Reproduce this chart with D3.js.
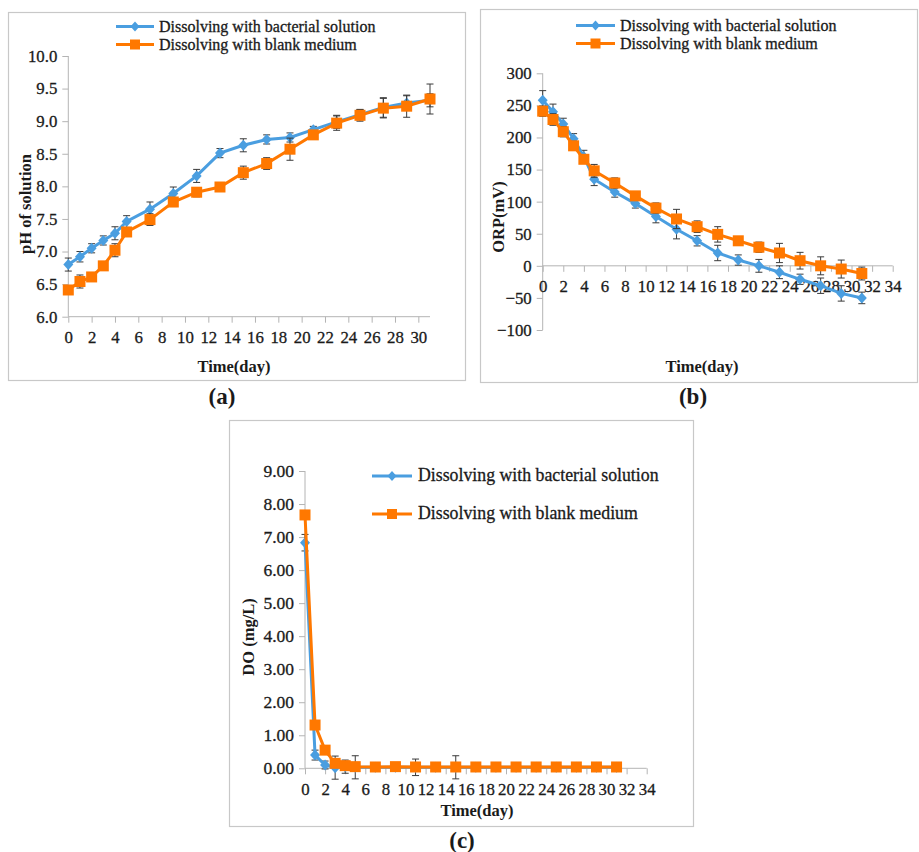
<!DOCTYPE html>
<html><head><meta charset="utf-8">
<script src="https://cdn.jsdelivr.net/npm/d3@7"></script>
<style>body{margin:0;background:#fff}svg{display:block}</style>
</head><body><svg id="c" width="919" height="852"></svg>
<script>
const days = [0,1,2,3,4,5,7,9,11,13,15,17,19,21,23,25,27,29,31];
const seriesNames = ["Dissolving with bacterial solution","Dissolving with blank medium"];
const phBact = [6.80,6.92,7.05,7.17,7.28,7.46,7.65,7.89,8.16,8.51,8.63,8.72,8.75,8.87,8.99,9.10,9.21,9.28,9.32];
const phBactErr = [0.10,0.08,0.07,0.07,0.10,0.09,0.11,0.10,0.10,0.07,0.10,0.07,0.07,0.05,0.10,0.08,0.15,0.11,0.10];
const phBlank = [6.41,6.54,6.61,6.78,7.02,7.30,7.49,7.76,7.91,7.99,8.21,8.35,8.57,8.79,8.97,9.09,9.20,9.23,9.34];
const phBlankErr = [0.04,0.10,0.06,0.04,0.10,0.04,0.09,0.07,0.07,0.05,0.10,0.09,0.17,0.05,0.11,0.09,0.15,0.17,0.23];
const orpBact = [258,240,221,198,170,135,115,97,77,57,39,20,9,0,-10,-21,-31,-43,-50];
const orpBactErr = [15,12,9,8,10,10,8,7,10,15,8,12,8,10,10,8,12,12,9];
const orpBlank = [241,228,209,187,166,148,129,109,90,73,61,49,39,29,20,8,0,-5,-12];
const orpBlankErr = [8,9,8,7,6,10,8,5,8,15,9,12,5,8,15,13,14,14,10];
const doBact = [6.83,0.40,0.10,0.02,0.05,0.03,0.03,0.03,0.03,0.03,0.03,0.03,0.03,0.03,0.03,0.03,0.03,0.03,0.03];
const doBactErr = [0.25,0.15,0.12,0.35,0.20,0.35,0.05,0.12,0.25,0.08,0.35,0.08,0.12,0.05,0.08,0.05,0.12,0.05,0.05];
const doBlank = [7.67,1.31,0.55,0.15,0.08,0.05,0.04,0.05,0.04,0.04,0.04,0.04,0.04,0.04,0.04,0.04,0.04,0.04,0.04];
const doBlankErr = [0.05,0.05,0.1,0.1,0.05,0.05,0.03,0.03,0.03,0.03,0.03,0.03,0.03,0.03,0.03,0.03,0.03,0.03,0.03];
const phTicks = [6.0,6.5,7.0,7.5,8.0,8.5,9.0,9.5,10.0];
const orpTicks = [-100,-50,0,50,100,150,200,250,300];
const doTicks = [0,1,2,3,4,5,6,7,8,9];

const BLUE = "#4a9ee0", ORANGE = "#ff7800", AX = "#b4b4b4", ERR = "#3a3a3a", TXT = "#1a1a1a";
const FONT = "Liberation Serif";
const svg = d3.select("#c");

function regular(sel){ return sel.attr("fill",TXT).attr("stroke",TXT).attr("stroke-width",0.3); }

function panel(o){
  const g = svg.append("g").attr("font-family",FONT);
  g.append("rect").attr("x",o.box[0]+0.5).attr("y",o.box[1]+0.5).attr("width",o.box[2]).attr("height",o.box[3])
    .attr("fill","none").attr("stroke","#c8c8c8").attr("stroke-width",1.2);
  const x = d3.scaleLinear().domain(o.xd).range(o.xr);
  const y = d3.scaleLinear().domain(o.yd).range(o.yr);
  const y0 = y(o.xAxisAt);
  const ya = g.append("g").attr("transform",`translate(${x(0)},0)`)
    .call(d3.axisLeft(y).tickValues(o.yTicks).tickSize(6).tickPadding(5).tickFormat(o.yFmt));
  ya.attr("font-family",FONT);
  ya.select(".domain").attr("stroke",AX).attr("d",`M0,${o.yr[0]}V${o.yr[1]}`);
  ya.selectAll(".tick line").attr("stroke",AX);
  regular(ya.selectAll(".tick text").attr("font-size",o.yfs));
  const xa = g.append("g").attr("transform",`translate(0,${y0})`)
    .call(d3.axisBottom(x).tickValues(o.xTicks).tickSize(6).tickPadding(o.xpad).tickFormat(d3.format("d")));
  xa.attr("font-family",FONT);
  xa.select(".domain").attr("stroke",AX).attr("d",`M${o.xr[0]},0H${o.xr[1]}`);
  xa.selectAll(".tick line").attr("stroke",AX);
  regular(xa.selectAll(".tick text").attr("font-size",o.xfs));
  g.append("text").attr("x",o.xt[0]).attr("y",o.xt[1]).attr("text-anchor","middle").attr("font-weight","bold").attr("font-size",16.5).attr("fill",TXT).text("Time(day)");
  g.append("text").attr("transform",`translate(${o.yt[0]},${o.yt[1]}) rotate(-90)`).attr("text-anchor","middle").attr("font-weight","bold").attr("font-size",16.5).attr("fill",TXT).text(o.ytitle);
  g.append("text").attr("x",o.lab[0]).attr("y",o.lab[1]).attr("text-anchor","middle").attr("font-weight","bold").attr("font-size",23).attr("fill",TXT).text(o.label);
  const ser = [{v:o.b,e:o.be,c:BLUE,m:"d"},{v:o.o,e:o.oe,c:ORANGE,m:"s"}];
  ser.forEach(s=>{
    const pts = days.map((d,i)=>({x:x(d),y:y(s.v[i]),lo:y(s.v[i]-s.e[i]),hi:y(s.v[i]+s.e[i])}));
    const eg = g.append("g");
    pts.forEach(p=>{
      eg.append("path").attr("d",`M${p.x},${p.lo}V${p.hi}M${p.x-3.5},${p.lo}H${p.x+3.5}M${p.x-3.5},${p.hi}H${p.x+3.5}`)
        .attr("stroke",ERR).attr("stroke-width",1).attr("fill","none");
    });
    g.append("path").attr("d",d3.line().x(p=>p.x).y(p=>p.y)(pts)).attr("fill","none").attr("stroke",s.c).attr("stroke-width",3);
    pts.forEach(p=>{
      if(s.m==="d") g.append("path").attr("d",`M${p.x},${p.y-5.5}L${p.x+5},${p.y}L${p.x},${p.y+5.5}L${p.x-5},${p.y}Z`).attr("fill",s.c);
      else g.append("rect").attr("x",p.x-5.5).attr("y",p.y-5.5).attr("width",11).attr("height",11).attr("fill",s.c);
    });
  });
  o.leg.ys.forEach((ly,i)=>{
    const c = i===0?BLUE:ORANGE;
    const [x1,x2] = o.leg.x;
    g.append("line").attr("x1",x1).attr("x2",x2).attr("y1",ly).attr("y2",ly).attr("stroke",c).attr("stroke-width",3);
    const mx=(x1+x2)/2;
    if(i===0) g.append("path").attr("d",`M${mx},${ly-5}L${mx+4.5},${ly}L${mx},${ly+5}L${mx-4.5},${ly}Z`).attr("fill",c);
    else g.append("rect").attr("x",mx-5).attr("y",ly-5).attr("width",10).attr("height",10).attr("fill",c);
    regular(g.append("text").attr("x",o.leg.tx).attr("y",ly+5).attr("font-size",o.leg.fs).text(seriesNames[i]));
  });
}

panel({box:[8,12,457,368], xd:[0,31], xr:[68.3,430], yd:[6,10], yr:[316.7,56], xAxisAt:6,
  yTicks:phTicks, yFmt:d3.format(".1f"), xTicks:d3.range(0,31,2), yfs:16.8, xfs:16.8, xpad:8,
  xt:[234,372], yt:[31,204], ytitle:"pH of solution", lab:[222,404], label:"(a)",
  b:phBact, be:phBactErr, o:phBlank, oe:phBlankErr, leg:{x:[116,154], ys:[26.5,44.5], tx:159, fs:16}});

panel({box:[480,9,437,373], xd:[0,34], xr:[542.7,892.7], yd:[-100,300], yr:[330,73.3], xAxisAt:0,
  yTicks:orpTicks, yFmt:d3.format("d"), xTicks:d3.range(0,35,2), yfs:16.8, xfs:16.8, xpad:8,
  xt:[702,372], yt:[504,217], ytitle:"ORP(mV)", lab:[693,404], label:"(b)",
  b:orpBact, be:orpBactErr, o:orpBlank, oe:orpBlankErr, leg:{x:[576,615], ys:[25.5,43.5], tx:620, fs:16}});

panel({box:[229,420,464,406], xd:[0,34], xr:[305,646.7], yd:[0,9], yr:[768.3,471], xAxisAt:0,
  yTicks:doTicks, yFmt:d3.format(".2f"), xTicks:d3.range(0,35,2), yfs:17.5, xfs:16.8, xpad:9,
  xt:[477,816], yt:[254,637], ytitle:"DO (mg/L)", lab:[462,848], label:"(c)",
  b:doBact, be:doBactErr, o:doBlank, oe:doBlankErr, leg:{x:[372,412], ys:[476,514], tx:418, fs:17.8}});
</script></body></html>
